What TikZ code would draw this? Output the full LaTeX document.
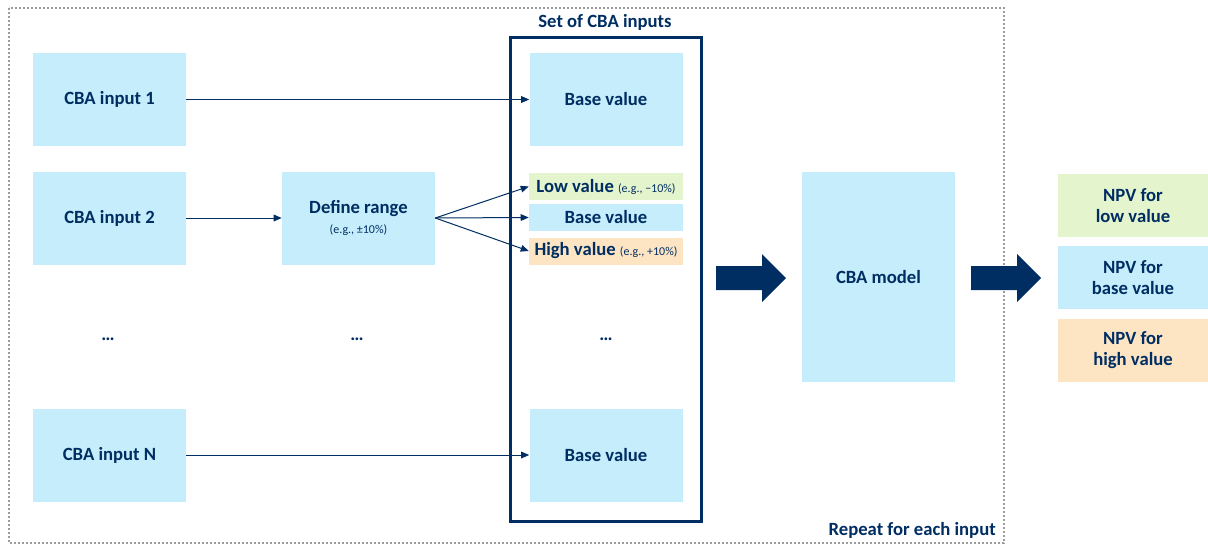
\documentclass[tikz,border=0pt]{standalone}
\usepackage{fontspec}
\setmainfont{Carlito}
\usetikzlibrary{arrows.meta}
\definecolor{navy}{HTML}{002D62}
\definecolor{skyfill}{HTML}{C5EDFC}
\definecolor{lowfill}{HTML}{E4F4CD}
\definecolor{highfill}{HTML}{FDE5C4}
\definecolor{framegray}{HTML}{9C9C9C}
\newcommand\smallnote{\mdseries\fontsize{9}{11}\selectfont}
\begin{document}
\begin{tikzpicture}[x=0.75pt,y=-0.75pt,
  lbl/.style={text=navy, font=\bfseries\fontsize{14}{16}\selectfont, align=center, inner sep=0pt},
  bigbox/.style={lbl, fill=skyfill, minimum width=114.75pt, minimum height=69.75pt},
  slimbox/.style={lbl, minimum width=115.5pt, minimum height=20.25pt},
  npvbox/.style={lbl, minimum width=112.5pt, minimum height=47.25pt},
  conn/.style={navy, line width=0.75pt, -{Triangle[length=6pt,width=5pt]}},
  fat/.style={fill=navy, draw=none}]
\useasboundingbox (0,0) rectangle (1208,547);

% outer repeat frame
\draw[framegray, line width=1.8pt, dash pattern=on 1.6pt off 1.4pt] (9,8) rectangle (1004,543);
\node[lbl, anchor=east] (repeat) at (996,530) {Repeat for each input};

% inputs
\node[bigbox] (in1) at (109.5,99.5) {CBA input 1};
\node[bigbox] (in2) at (109.5,218) {CBA input 2};
\node[bigbox] (inN) at (109.5,455) {CBA input N};
\node[lbl] (dots1) at (108,339) {…};

% range definition
\node[bigbox] (range) at (358.5,218) {Define range\\[-1pt]{\smallnote (e.g., ±10\%)}};
\node[lbl] (dots2) at (357,339) {…};

% set of inputs
\node[draw=navy, line width=2.25pt, minimum width=143.25pt, minimum height=363pt, inner sep=0pt] (set) at (605.5,279) {};
\node[lbl] (settitle) at (605,22) {Set of CBA inputs};
\node[bigbox] (base1) at (606,99.5) {Base value};
\node[slimbox, fill=lowfill] (low) at (606,186.5) {Low value {\smallnote (e.g., −10\%)}};
\node[slimbox, fill=skyfill] (basem) at (606,217.5) {Base value};
\node[slimbox, fill=highfill] (high) at (606,251) {High value {\smallnote (e.g., +10\%)}};
\node[lbl] (dots3) at (606,339) {…};
\node[bigbox] (baseN) at (606,455) {Base value};

% model and results
\node[bigbox, minimum height=157.5pt] (model) at (878.5,277) {CBA model};
\node[npvbox, fill=lowfill] (npvlow) at (1133,205.5) {NPV for\\low value};
\node[npvbox, fill=skyfill] (npvbase) at (1133,277.5) {NPV for\\base value};
\node[npvbox, fill=highfill] (npvhigh) at (1133,350) {NPV for\\high value};

% connectors
\draw[conn] (in1) -- (base1);
\draw[conn] (in2) -- (range);
\draw[conn] (inN) -- (baseN);
\draw[conn] (range.east) -- (low.west);
\draw[conn] (range.east) -- (basem.west);
\draw[conn] (range.east) -- (high.west);

% block arrows
\fill[fat] (716,266) -- (762,266) -- (762,254) -- (786,278) -- (762,302) -- (762,290) -- (716,290) -- cycle;
\fill[fat] (971,266) -- (1017,266) -- (1017,254) -- (1041,278) -- (1017,302) -- (1017,290) -- (971,290) -- cycle;
\end{tikzpicture}
\end{document}
